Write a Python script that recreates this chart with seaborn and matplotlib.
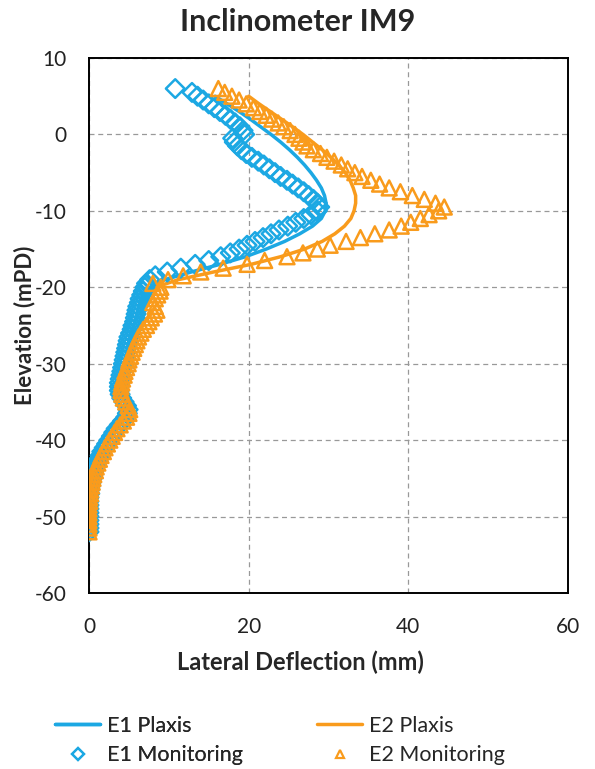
import matplotlib
matplotlib.use("Agg")
import matplotlib.pyplot as plt
from matplotlib.lines import Line2D
import seaborn as sns

sns.set_theme(style="white")
plt.rcParams["font.family"] = ["Lato", "DejaVu Sans"]

BLUE = "#1CA8E3"
ORANGE = "#F99B1C"

# Inclinometer readings: elevation (mPD) and lateral deflection (mm)
mon_elev = [
    6.0, 5.5, 5.0, 4.5, 4.0, 3.5, 3.0, 2.5, 2.0, 1.5,
    1.0, 0.5, 0.0, -0.5, -1.0, -1.5, -2.0, -2.5, -3.0, -3.5,
    -4.0, -4.5, -5.0, -5.5, -6.0, -6.5, -7.0, -7.5, -8.0, -8.5,
    -9.0, -9.5, -10.0, -10.5, -11.0, -11.5, -12.0, -12.5, -13.0, -13.5,
    -14.0, -14.5, -15.0, -15.5, -16.0, -16.5, -17.0, -17.5, -18.0, -18.5,
    -19.0, -19.5, -20.0, -20.5, -21.0, -21.5, -22.0, -22.5, -23.0, -23.5,
    -24.0, -24.5, -25.0, -25.5, -26.0, -26.5, -27.0, -27.5, -28.0, -28.5,
    -29.0, -29.5, -30.0, -30.5, -31.0, -31.5, -32.0, -32.5, -33.0, -33.5,
    -34.0, -34.5, -35.0, -35.5, -36.0, -36.5, -37.0, -37.5, -38.0, -38.5,
    -39.0, -39.5, -40.0, -40.5, -41.0, -41.5, -42.0, -42.5, -43.0, -43.5,
    -44.0, -44.5, -45.0, -45.5, -46.0, -46.5, -47.0, -47.5, -48.0, -48.5,
    -49.0, -49.5, -50.0, -50.5, -51.0, -51.5, -52.0,
]
e1_monitoring = [
    10.8, 12.9, 13.6, 14.3, 15.0, 15.7, 16.4, 17.1, 17.7, 18.3,
    18.9, 19.3, 19.5, 18.0, 18.2, 18.6, 19.1, 19.7, 20.4, 21.2,
    21.9, 22.6, 23.3, 24.0, 24.8, 25.5, 26.2, 26.9, 27.5, 28.1,
    28.6, 28.9, 28.6, 27.8, 26.9, 25.9, 24.9, 23.8, 22.8, 21.8,
    20.8, 19.8, 18.8, 17.7, 16.5, 15.0, 13.3, 11.5, 9.8, 8.3,
    7.6, 7.2, 7.0, 6.8, 6.6, 6.4, 6.3, 6.1, 6.0, 5.9,
    5.8, 5.7, 5.5, 5.4, 5.2, 5.0, 4.9, 4.8, 4.7, 4.6,
    4.5, 4.4, 4.3, 4.2, 4.1, 4.0, 3.9, 3.8, 3.8, 3.8,
    3.9, 4.1, 4.4, 4.7, 4.9, 4.8, 4.6, 4.2, 3.8, 3.4,
    3.1, 2.8, 2.5, 2.2, 1.9, 1.6, 1.4, 1.2, 1.0, 0.8,
    0.6, 0.5, 0.4, 0.3, 0.2, 0.1, 0.1, 0.0, 0.0, 0.0,
    0.0, 0.0, 0.0, 0.0, 0.0, 0.0, 0.0,
]
e2_monitoring = [
    16.2, 17.0, 17.9, 18.8, 19.7, 20.6, 21.4, 22.2, 22.9, 23.7,
    24.4, 25.2, 25.8, 26.3, 26.8, 27.3, 28.1, 29.0, 29.8, 30.7,
    31.6, 32.4, 33.3, 34.2, 35.3, 36.4, 37.6, 39.0, 40.5, 42.0,
    43.4, 44.5, 43.8, 42.6, 41.5, 40.3, 39.1, 37.6, 35.8, 34.0,
    32.2, 30.2, 28.6, 26.8, 24.8, 22.0, 19.8, 16.8, 14.0, 11.8,
    9.9, 8.0, 9.0, 8.9, 8.6, 8.3, 8.0, 8.3, 8.5, 8.2,
    7.8, 7.5, 7.2, 6.8, 6.5, 6.2, 6.0, 5.8, 5.6, 5.4,
    5.2, 5.0, 4.9, 4.7, 4.5, 4.4, 4.2, 4.1, 4.0, 4.0,
    4.1, 4.3, 4.6, 4.9, 5.1, 5.0, 4.7, 4.3, 3.9, 3.5,
    3.2, 2.9, 2.6, 2.3, 2.0, 1.8, 1.5, 1.3, 1.1, 0.9,
    0.8, 0.6, 0.5, 0.4, 0.3, 0.2, 0.2, 0.1, 0.1, 0.0,
    0.0, 0.0, 0.0, 0.0, 0.0, 0.0, 0.0,
]

# Plaxis predictions
plaxis_elev = [
    5, 4, 3, 2, 1, 0, -1, -2, -3, -4,
    -5, -6, -7, -8, -9, -10, -11, -12, -13, -14,
    -15, -16, -17, -18, -19, -20, -21, -22, -23, -24,
    -25, -26, -27, -28, -29, -30, -31, -32, -33, -34,
    -35, -36, -37, -38, -39, -40, -41, -42, -43, -44,
    -45, -46, -47, -48, -49, -50,
]
e1_plaxis = [
    15.8, 17.3, 18.8, 20.2, 21.5, 22.8, 24.0, 25.1, 26.1, 27.0,
    27.8, 28.5, 29.1, 29.5, 29.7, 29.6, 29.1, 28.0, 26.4, 24.5,
    22.2, 19.6, 16.4, 12.8, 9.5, 7.6, 6.8, 6.4, 6.1, 5.9,
    5.6, 5.3, 5.0, 4.8, 4.6, 4.4, 4.2, 4.0, 3.9, 4.0,
    4.5, 4.8, 4.5, 3.8, 3.1, 2.5, 1.9, 1.4, 1.0, 0.6,
    0.4, 0.2, 0.1, 0.0, 0.0, 0.0,
]
e2_plaxis = [
    20.0, 21.3, 22.7, 24.1, 25.5, 26.8, 28.0, 29.2, 30.3, 31.3,
    32.1, 32.7, 33.1, 33.4, 33.4, 33.2, 32.8, 32.0, 30.8, 29.2,
    27.0, 24.0, 20.3, 15.6, 11.2, 8.3, 7.6, 7.2, 6.9, 6.6,
    6.3, 6.0, 5.7, 5.4, 5.1, 4.8, 4.5, 4.3, 4.1, 4.1,
    4.6, 5.0, 4.7, 3.9, 3.2, 2.6, 2.0, 1.5, 1.1, 0.8,
    0.5, 0.3, 0.2, 0.1, 0.0, 0.0,
]

x_ticks = [0, 20, 40, 60]
y_ticks = [10, 0, -10, -20, -30, -40, -50, -60]

fig = plt.figure(figsize=(5.95, 7.69), dpi=100)
ax = fig.add_axes([89 / 595, 1 - 593 / 769, (568 - 89) / 595, (593 - 58) / 769])

sns.lineplot(x=e1_plaxis, y=plaxis_elev, sort=False, estimator=None,
             color=BLUE, linewidth=2.5, ax=ax, zorder=3)
sns.lineplot(x=e2_plaxis, y=plaxis_elev, sort=False, estimator=None,
             color=ORANGE, linewidth=2.5, ax=ax, zorder=3)
sns.scatterplot(x=e1_monitoring, y=mon_elev, marker="D", s=90,
                facecolor="none", edgecolor=BLUE, linewidth=1.8, ax=ax, zorder=4)
sns.scatterplot(x=e2_monitoring, y=mon_elev, marker="^", s=115,
                facecolor="none", edgecolor=ORANGE, linewidth=1.8, ax=ax, zorder=5)

ax.set_xlim(0, 60)
ax.set_ylim(-60, 10)
ax.set_xticks(x_ticks)
ax.set_yticks(y_ticks)
ax.set_xticklabels([str(t) for t in x_ticks])
ax.set_yticklabels([str(t) for t in y_ticks])

for s in ax.spines.values():
    s.set_color("black")
    s.set_linewidth(1.4)
    s.set_visible(True)
ax.grid(True, color="#999999", linestyle=(0, (4, 3)), linewidth=0.9)
ax.set_axisbelow(True)
ax.tick_params(axis="both", labelsize=15, length=5, width=1.2,
               color="black", direction="out", labelcolor="#222222")
ax.tick_params(axis="y", pad=11)
ax.tick_params(axis="x", pad=12)

ax.set_xlabel("Lateral Deflection (mm)", fontsize=17, fontweight="bold")
ax.xaxis.set_label_coords((300 - 89) / 479, -0.108)
ax.set_ylabel("Elevation (mPD)", fontsize=16, fontweight="bold")
ax.yaxis.set_label_coords(-0.113, 0.5)

fig.text(0.5, 1 - 22 / 769, "Inclinometer IM9", ha="center", va="center",
         fontsize=22, fontweight="bold")

# Two legend columns placed under the axes
col1 = [Line2D([], [], color=BLUE, linewidth=2.5),
        Line2D([], [], color=BLUE, marker="D", markersize=6, linestyle="none",
               markerfacecolor="none", markeredgewidth=1.6)]
col2 = [Line2D([], [], color=ORANGE, linewidth=2.5),
        Line2D([], [], color=ORANGE, marker="^", markersize=6, linestyle="none",
               markerfacecolor="none", markeredgewidth=1.6)]
leg_kw = dict(loc="upper left", frameon=False, fontsize=15.5, handlelength=2.1,
              handletextpad=0.33, labelspacing=0.42, borderpad=0, borderaxespad=0)
leg1 = fig.legend(col1, ["E1 Plaxis", "E1 Monitoring"],
                  bbox_to_anchor=(55 / 595, 1 - 716 / 769), **leg_kw)
fig.add_artist(leg1)
fig.legend(col2, ["E2 Plaxis", "E2 Monitoring"],
           bbox_to_anchor=(317 / 595, 1 - 716 / 769), **leg_kw)

fig.savefig("out.png", dpi=100)
